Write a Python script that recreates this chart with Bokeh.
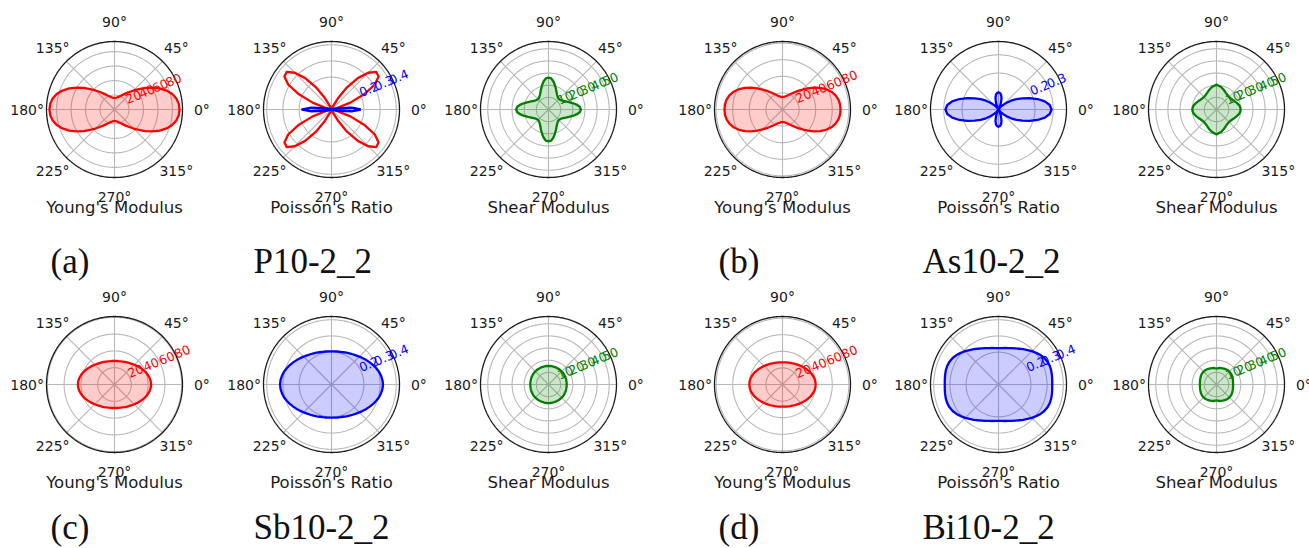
import numpy as np
from bokeh.plotting import figure
from bokeh.layouts import column, row
from bokeh.models import Range1d
from bokeh.core.properties import value
from bokeh.embed import file_html
from bokeh.resources import INLINE

# Sampling angles of each quarter turn (deg); curves are orthotropic, so the
# quarter 0..90 is mirrored to the full turn.
QUARTER_DEG = [0, 5, 10, 15, 20, 25, 30, 35, 40, 45, 50, 55, 60, 65, 70, 75, 80, 85, 90]

# Young's modulus (GPa)
E_P10 = [89.9, 89.2, 86.8, 82.7, 76.6, 69.0, 60.5, 51.9, 44.0, 37.2, 31.6, 27.2, 23.7, 21.1, 19.1, 17.7, 16.8, 16.2, 16.0]
E_AS10 = [70.0, 69.7, 68.5, 66.3, 62.8, 58.0, 52.2, 45.8, 39.6, 34.0, 29.2, 25.4, 22.2, 19.9, 18.0, 16.8, 15.9, 15.4, 15.2]
E_SB10 = [43.6, 43.4, 42.7, 41.6, 40.4, 38.9, 37.4, 36.0, 34.6, 33.3, 32.2, 31.2, 30.3, 29.6, 29.0, 28.6, 28.2, 28.1, 28.0]
E_BI10 = [40.0, 39.8, 39.3, 38.4, 37.4, 36.2, 35.0, 33.8, 32.6, 31.5, 30.5, 29.6, 28.9, 28.2, 27.7, 27.3, 27.0, 26.8, 26.8]

# Poisson's ratio (signed: positive drawn blue, negative drawn red)
NU_P10 = [0.181, 0.125, 0.045, -0.031, -0.124, -0.222, -0.309, -0.355, -0.361, -0.321, -0.253, -0.167, -0.080, -0.025, 0.0, 0.0, 0.0, 0.0, 0.0]
NU_AS10 = [0.291, 0.282, 0.258, 0.222, 0.182, 0.145, 0.113, 0.084, 0.058, 0.036, 0.018, 0.005, 0.004, 0.018, 0.040, 0.064, 0.082, 0.091, 0.095]
NU_SB10 = [0.318, 0.316, 0.311, 0.304, 0.294, 0.284, 0.273, 0.263, 0.253, 0.243, 0.235, 0.228, 0.222, 0.217, 0.212, 0.209, 0.207, 0.205, 0.205]
NU_BI10 = [0.332, 0.333, 0.335, 0.337, 0.337, 0.334, 0.327, 0.317, 0.304, 0.291, 0.278, 0.266, 0.255, 0.246, 0.239, 0.233, 0.229, 0.226, 0.225]

# Shear modulus (GPa)
G_P10 = [26.7, 25.8, 23.4, 20.6, 17.9, 15.7, 14.1, 13.0, 12.4, 12.2, 12.4, 13.0, 14.1, 15.7, 17.9, 20.6, 23.4, 25.8, 26.2]
G_AS10 = [19.9, 19.7, 19.1, 18.2, 17.3, 16.4, 15.6, 15.1, 14.7, 14.6, 14.7, 15.1, 15.6, 16.4, 17.3, 18.2, 19.1, 19.7, 20.5]
G_SB10 = [15.0, 15.0, 15.0, 15.1, 15.1, 15.2, 15.2, 15.3, 15.3, 15.3, 15.3, 15.3, 15.3, 15.3, 15.3, 15.3, 15.3, 15.3, 15.3]
G_BI10 = [13.7, 13.7, 13.8, 14.0, 14.2, 14.4, 14.7, 14.9, 15.0, 15.0, 15.0, 14.9, 14.7, 14.4, 14.2, 14.0, 13.8, 13.4, 13.2]

E_TICKS = [20, 40, 60, 80]
NU_TICKS = [0.2, 0.3, 0.4]
NU_TICKS_AS = [0.2, 0.3]
G_TICKS = [10, 20, 30, 40, 50]
ANGLE_TICKS = [0, 45, 90, 135, 180, 225, 270, 315]

MATERIALS = ["P10-2_2", "As10-2_2", "Sb10-2_2", "Bi10-2_2"]
PANEL_TAGS = ["(a)", "(b)", "(c)", "(d)"]
TITLES = ["Young's Modulus", "Poisson's Ratio", "Shear Modulus"]

# ---------------------------------------------------------------- layout
R_PX = 68.0                                    # radius of every polar frame
COL_EDGES = [0, 222, 440, 665, 890, 1107, 1309]
COL_CENTERS = [114, 331, 548, 782, 998, 1216]
ROW_SPANS = [(0, 232, 109), (287, 500, 384)]   # (top, bottom, centre y)
SANS = value("DejaVu Sans")
SERIF = value("Liberation Serif")
INK = "#1a1a1a"
GRID = "#b8b8b8"
RED, BLUE, GREEN = "#ff0000", "#0000ff", "#008000"


def full_turn(quarter):
    q = list(quarter)
    half = q + q[-2::-1]
    return np.array(half + half[1:], dtype=float)


THETA = np.deg2rad(np.arange(0, 361, 5))
RING_T = np.linspace(0, 2 * np.pi, 361)


def polar_panel(col, rowi, rmax, ticks, tick_fmt, tick_color, title, curves,
                skip_angles=()):
    left, right = COL_EDGES[col], COL_EDGES[col + 1]
    top, bottom, cy = ROW_SPANS[rowi]
    cx = COL_CENTERS[col]
    s = R_PX / rmax                             # pixels per data unit
    p = figure(width=right - left, height=bottom - top,
               x_range=Range1d(-(cx - left) / s, (right - cx) / s),
               y_range=Range1d(-(bottom - cy) / s, (cy - top) / s),
               output_backend="svg", toolbar_location=None,
               min_border=0, outline_line_color=None)
    p.axis.visible = False
    p.grid.visible = False

    # spokes and rings
    a = np.deg2rad(ANGLE_TICKS)
    p.segment(x0=0, y0=0, x1=rmax * np.cos(a), y1=rmax * np.sin(a),
              line_color=GRID, line_width=1.1)
    p.multi_line(xs=[t * np.cos(RING_T) for t in ticks],
                 ys=[t * np.sin(RING_T) for t in ticks],
                 line_color=GRID, line_width=1.1)

    # curves
    for vals, color, filled in curves:
        r = full_turn(vals)
        xs, ys = r * np.cos(THETA), r * np.sin(THETA)
        if filled:
            p.patch(xs, ys, fill_color=color, fill_alpha=0.2,
                    line_color=color, line_width=2.3, line_join="round")
        else:
            p.line(xs, ys, line_color=color, line_width=2.3, line_join="round")

    p.line(rmax * np.cos(RING_T), rmax * np.sin(RING_T),
           line_color=INK, line_width=1.3)

    # radial tick labels along 22.5 deg
    ra = np.deg2rad(22.5)
    tv = np.array(ticks, dtype=float)
    p.text(x=tv * np.cos(ra), y=tv * np.sin(ra),
           text=[tick_fmt.format(t) for t in ticks], angle=ra,
           text_align="left", text_baseline="bottom",
           text_font=SANS, text_font_size="12.5px", text_color=tick_color)

    # angle labels
    shown = [d for d in ANGLE_TICKS if d not in skip_angles]
    sa = np.deg2rad(shown)
    lr = 1.285 * rmax
    p.text(x=lr * np.cos(sa), y=lr * np.sin(sa),
           text=[f"{d}\u00b0" for d in shown],
           text_align="center", text_baseline="middle",
           text_font=SANS, text_font_size="14px", text_color=INK)
    p.text(x=[0], y=[-98 / s], text=[title], text_align="center",
           text_baseline="middle", text_font=SANS,
           text_font_size="16.5px", text_color=INK)
    return p


def label_strip(height, mid, items):
    p = figure(width=1309, height=height, x_range=Range1d(0, 1309),
               y_range=Range1d(0, height), output_backend="svg",
               toolbar_location=None, min_border=0, outline_line_color=None)
    p.axis.visible = False
    p.grid.visible = False
    p.text(x=[x for x, _ in items], y=[mid] * len(items),
           text=[t for _, t in items], text_align="left",
           text_baseline="middle", text_font=SERIF,
           text_font_size="35px", text_color="#111111")
    return p


def split_sign(vals):
    pos = [max(v, 0.0) for v in vals]
    neg = [max(-v, 0.0) for v in vals]
    return pos, neg


nu_p_pos, nu_p_neg = split_sign(NU_P10)

top_row = [
    polar_panel(0, 0, 94, E_TICKS, "{}", RED, TITLES[0], [(E_P10, RED, True)]),
    polar_panel(1, 0, 0.42, NU_TICKS, "{:.1f}", BLUE, TITLES[1],
                [(nu_p_neg, RED, False), (nu_p_pos, BLUE, False)]),
    polar_panel(2, 0, 56, G_TICKS, "{}", GREEN, TITLES[2], [(G_P10, GREEN, True)]),
    polar_panel(3, 0, 82, E_TICKS, "{}", RED, TITLES[0], [(E_AS10, RED, True)]),
    polar_panel(4, 0, 0.373, NU_TICKS_AS, "{:.1f}", BLUE, TITLES[1], [(NU_AS10, BLUE, True)]),
    polar_panel(5, 0, 56, G_TICKS, "{}", GREEN, TITLES[2], [(G_AS10, GREEN, True)],
                skip_angles=(0,)),
]
bottom_row = [
    polar_panel(0, 1, 81, E_TICKS, "{}", RED, TITLES[0], [(E_SB10, RED, True)]),
    polar_panel(1, 1, 0.42, NU_TICKS, "{:.1f}", BLUE, TITLES[1], [(NU_SB10, BLUE, True)]),
    polar_panel(2, 1, 56, G_TICKS, "{}", GREEN, TITLES[2], [(G_SB10, GREEN, True)]),
    polar_panel(3, 1, 82, E_TICKS, "{}", RED, TITLES[0], [(E_BI10, RED, True)]),
    polar_panel(4, 1, 0.42, NU_TICKS, "{:.1f}", BLUE, TITLES[1], [(NU_BI10, BLUE, True)]),
    polar_panel(5, 1, 56, G_TICKS, "{}", GREEN, TITLES[2], [(G_BI10, GREEN, True)]),
]

# tag/material captions; strip 1 covers page y 232..287, strip 2 y 500..548
strip1 = label_strip(55, 287 - 261, [(50, PANEL_TAGS[0]), (253, MATERIALS[0]),
                                     (718, PANEL_TAGS[1]), (922, MATERIALS[1])])
strip2 = label_strip(48, 548 - 527, [(50, PANEL_TAGS[2]), (253, MATERIALS[2]),
                                     (718, PANEL_TAGS[3]), (922, MATERIALS[3])])

layout = column(row(*top_row), strip1, row(*bottom_row), strip2)

with open("out.html", "w") as f:
    f.write(file_html(layout, INLINE))
